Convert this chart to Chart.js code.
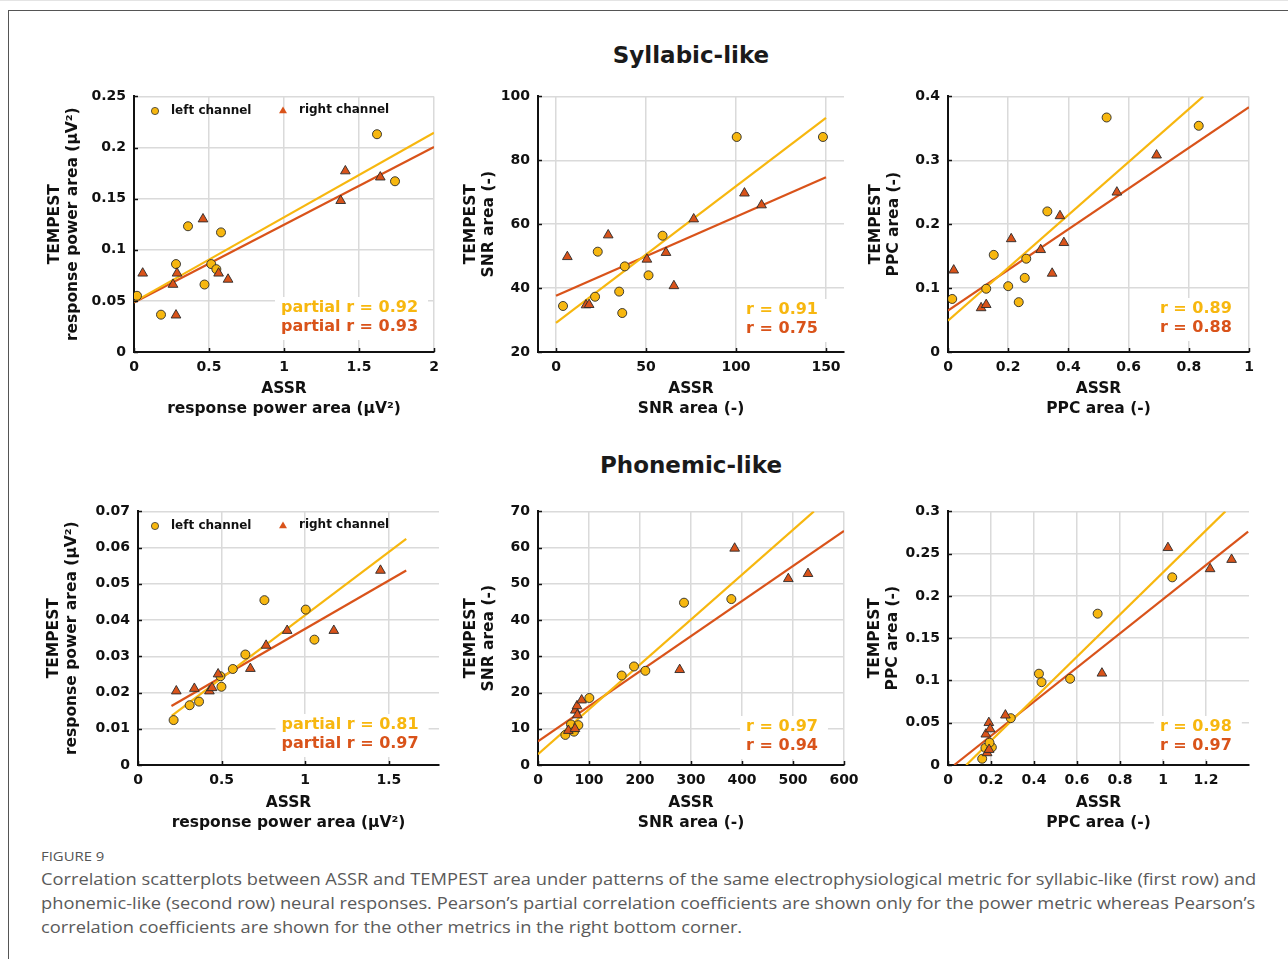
<!DOCTYPE html>
<html>
<head>
<meta charset="utf-8">
<script src="https://cdn.jsdelivr.net/npm/chart.js@4.4.1/dist/chart.umd.min.js"></script>
<style>
html, body { margin: 0; padding: 0; background: #fff; }
body { width: 1288px; height: 959px; position: relative; overflow: hidden; font-family: "DejaVu Sans", sans-serif; }
.topline { position: absolute; left: 0; top: 0; width: 100%; height: 1px; background: #e4e4e4; }
.frame { position: absolute; left: 8px; top: 10px; right: 0; bottom: 0; border-top: 1px solid #555; border-left: 1px solid #555; }
.rowtitle { position: absolute; font-weight: bold; font-size: 23px; line-height: 28px; color: #1a1a1a; white-space: nowrap; transform: translateX(-50%); }
canvas { position: absolute; }
.fig { position: absolute; left: 41px; top: 847px; font-family: "Open Sans", sans-serif; font-size: 13px; line-height: 18px; color: #555; white-space: nowrap; transform-origin: 0 50%; }
.cap { position: absolute; left: 41px; font-family: "Open Sans", sans-serif; font-size: 17px; line-height: 24px; color: #5a5a5a; white-space: nowrap; transform-origin: 0 50%; }
</style>
</head>
<body>
<div class="topline"></div>
<div class="frame"></div>
<div class="rowtitle" style="left:691px; top:41px;">Syllabic-like</div>
<div class="rowtitle" style="left:691px; top:451px;">Phonemic-like</div>
<div class="fig">FIGURE 9</div>
<div class="cap" style="top:867px;">Correlation scatterplots between ASSR and TEMPEST area under patterns of the same electrophysiological metric for syllabic-like (first row) and</div>
<div class="cap" style="top:891px;">phonemic-like (second row) neural responses. Pearson’s partial correlation coefficients are shown only for the power metric whereas Pearson’s</div>
<div class="cap" style="top:915px;">correlation coefficients are shown for the other metrics in the right bottom corner.</div>

<script>
// ---- data: [ASSR, TEMPEST] pairs ----

// syllabic-like, response power area
const sylPowLeft = [[0.02, 0.055], [0.18, 0.0365], [0.28, 0.086], [0.36, 0.123], [0.47, 0.066], [0.515, 0.086], [0.549, 0.081], [0.58, 0.117], [1.62, 0.213], [1.74, 0.167]];
const sylPowRight = [[0.058, 0.077], [0.26, 0.066], [0.287, 0.077], [0.28, 0.036], [0.46, 0.130], [0.564, 0.077], [0.627, 0.071], [1.378, 0.148], [1.409, 0.177], [1.642, 0.171]];
const sylPowLeftFit = [[0, 0.049], [2, 0.2144]];
const sylPowRightFit = [[0, 0.0485], [2, 0.2005]];
const sylPowStats = ['partial r = 0.92', 'partial r = 0.93'];
const sylPowXTicks = [0, 0.5, 1, 1.5, 2];
const sylPowYTicks = [0, 0.05, 0.1, 0.15, 0.2, 0.25];

// syllabic-like, SNR area
const sylSnrLeft = [[3.9, 34.4], [21.7, 37.3], [23.2, 51.4], [35.1, 38.9], [36.8, 32.2], [38.2, 46.8], [51.4, 44.0], [59.2, 56.4], [100.4, 87.3], [148.3, 87.3]];
const sylSnrRight = [[6.3, 49.8], [16.7, 34.7], [18.4, 34.8], [29.0, 56.6], [50.5, 49.0], [61.1, 51.1], [65.5, 40.7], [76.5, 61.6], [104.7, 69.7], [114.2, 66.0]];
const sylSnrLeftFit = [[0, 29.1], [150, 93.3]];
const sylSnrRightFit = [[0, 37.6], [150, 74.7]];
const sylSnrStats = ['r = 0.91', 'r = 0.75'];
const sylSnrXTicks = [0, 50, 100, 150];
const sylSnrYTicks = [20, 40, 60, 80, 100];

// syllabic-like, PPC area
const sylPpcLeft = [[0.014, 0.083], [0.127, 0.099], [0.152, 0.152], [0.200, 0.103], [0.235, 0.078], [0.255, 0.116], [0.260, 0.146], [0.330, 0.220], [0.527, 0.367], [0.833, 0.354]];
const sylPpcRight = [[0.019, 0.128], [0.110, 0.069], [0.127, 0.074], [0.210, 0.177], [0.308, 0.160], [0.346, 0.123], [0.372, 0.213], [0.385, 0.171], [0.561, 0.250], [0.693, 0.308]];
const sylPpcLeftFit = [[0, 0.049], [0.848, 0.4]];
const sylPpcRightFit = [[0, 0.065], [1, 0.383]];
const sylPpcStats = ['r = 0.89', 'r = 0.88'];
const sylPpcXTicks = [0, 0.2, 0.4, 0.6, 0.8, 1];
const sylPpcYTicks = [0, 0.1, 0.2, 0.3, 0.4];

// phonemic-like, response power area
const phoPowLeft = [[0.213, 0.0124], [0.309, 0.0165], [0.365, 0.0175], [0.493, 0.0245], [0.499, 0.0216], [0.567, 0.0265], [0.642, 0.0305], [0.756, 0.0455], [1.003, 0.0429], [1.055, 0.0346]];
const phoPowRight = [[0.229, 0.0204], [0.337, 0.0211], [0.427, 0.0204], [0.443, 0.0213], [0.479, 0.0251], [0.672, 0.0266], [0.766, 0.0330], [0.892, 0.0371], [1.171, 0.0371], [1.450, 0.0537]];
const phoPowLeftFit = [[0.203, 0.0136], [1.604, 0.0624]];
const phoPowRightFit = [[0.2, 0.0163], [1.604, 0.0537]];
const phoPowStats = ['partial r = 0.81', 'partial r = 0.97'];
const phoPowXTicks = [0, 0.5, 1, 1.5];
const phoPowYTicks = [0, 0.01, 0.02, 0.03, 0.04, 0.05, 0.06, 0.07];

// phonemic-like, SNR area
const phoSnrLeft = [[53.6, 8.3], [64.7, 11.2], [70.6, 9.2], [79.1, 11.0], [100.7, 18.5], [164.1, 24.7], [188.2, 27.2], [210.5, 26.0], [286.3, 44.8], [379.1, 45.8]];
const phoSnrRight = [[59.5, 9.5], [72.5, 10.0], [73.2, 15.1], [76.5, 16.3], [77.1, 13.8], [85.6, 17.9], [277.8, 26.3], [385.6, 59.8], [490.8, 51.4], [529.4, 52.8]];
const phoSnrLeftFit = [[0, 3.0], [541, 70]];
const phoSnrRightFit = [[0, 6.5], [600, 64.6]];
const phoSnrStats = ['r = 0.97', 'r = 0.94'];
const phoSnrXTicks = [0, 100, 200, 300, 400, 500, 600];
const phoSnrYTicks = [0, 10, 20, 30, 40, 50, 60, 70];

// phonemic-like, PPC area
const phoPpcLeft = [[0.159, 0.0074], [0.174, 0.0202], [0.204, 0.0209], [0.193, 0.0264], [0.292, 0.0554], [0.423, 0.108], [0.435, 0.098], [0.568, 0.102], [0.696, 0.179], [1.043, 0.222]];
const phoPpcRight = [[0.176, 0.0364], [0.190, 0.050], [0.196, 0.0426], [0.182, 0.0143], [0.191, 0.0182], [0.267, 0.0589], [0.716, 0.1085], [1.023, 0.257], [1.219, 0.232], [1.319, 0.243]];
const phoPpcLeftFit = [[0.085, 0], [1.29, 0.3]];
const phoPpcRightFit = [[0.029, 0], [1.396, 0.276]];
const phoPpcStats = ['r = 0.98', 'r = 0.97'];
const phoPpcXTicks = [0, 0.2, 0.4, 0.6, 0.8, 1, 1.2];
const phoPpcYTicks = [0, 0.05, 0.1, 0.15, 0.2, 0.25, 0.3];

const powTitle = 'response power area (μV²)';
const snrTitle = 'SNR area (-)';
const ppcTitle = 'PPC area (-)';

// ---- styling ----
const YEL = '#f7b70f';
const RED = '#d9531a';
const INK = '#111';
const GRID = '#dadada';
const FONT = '"DejaVu Sans", sans-serif';

Chart.defaults.font.family = FONT;

const toPts = arr => arr.map(([x, y]) => ({ x, y }));
const fmt = v => String(Math.round(v * 10000) / 10000);

function triPath(ctx, x, y, r) {
    ctx.beginPath();
    ctx.moveTo(x, y - r);
    ctx.lineTo(x + r * Math.sin(2 * Math.PI / 3), y + r * 0.5);
    ctx.lineTo(x - r * Math.sin(2 * Math.PI / 3), y + r * 0.5);
    ctx.closePath();
}

function buildPanel(p) {
    const [cx, cy, cw, ch] = p.box;
    const [al, at, ar, ab] = p.area;

    const cv = document.createElement('canvas');
    cv.width = cw;
    cv.height = ch;
    cv.style.left = cx + 'px';
    cv.style.top = cy + 'px';
    document.body.appendChild(cv);

    // white box + r values in the bottom right corner
    const statsPlugin = {
        id: 'statsBox',
        beforeDatasetsDraw(chart) {
            const { ctx, chartArea: a } = chart;
            ctx.save();
            ctx.font = 'bold 16px ' + FONT;
            const x = a.left + p.statFx * (a.right - a.left);
            const w = Math.max(...p.stats.map(t => ctx.measureText(t).width));
            const y1 = a.bottom - p.statDy[0];
            const y2 = a.bottom - p.statDy[1];
            ctx.fillStyle = '#fff';
            ctx.fillRect(x - 6, y1 - 11, w + 16, y2 - y1 + 24);
            ctx.restore();
        },
        afterDatasetsDraw(chart) {
            const { ctx, chartArea: a } = chart;
            ctx.save();
            ctx.font = 'bold 16px ' + FONT;
            ctx.textAlign = 'left';
            ctx.textBaseline = 'middle';
            const x = a.left + p.statFx * (a.right - a.left);
            ctx.fillStyle = YEL;
            ctx.fillText(p.stats[0], x, a.bottom - p.statDy[0]);
            ctx.fillStyle = RED;
            ctx.fillText(p.stats[1], x, a.bottom - p.statDy[1]);
            ctx.restore();
        }
    };

    // MATLAB-style inward tick marks
    const tickPlugin = {
        id: 'inTicks',
        afterDraw(chart) {
            const { ctx, chartArea: a, scales } = chart;
            ctx.save();
            ctx.strokeStyle = INK;
            ctx.lineWidth = 1.5;
            ctx.beginPath();
            scales.x.ticks.forEach(t => {
                const px = Math.round(scales.x.getPixelForValue(t.value)) + 0.5;
                ctx.moveTo(px, a.bottom);
                ctx.lineTo(px, a.bottom - 4);
            });
            scales.y.ticks.forEach(t => {
                const py = Math.round(scales.y.getPixelForValue(t.value)) + 0.5;
                ctx.moveTo(a.left, py);
                ctx.lineTo(a.left + 4, py);
            });
            ctx.stroke();
            ctx.restore();
        }
    };

    // legend sitting inside the top of the plot
    const legendPlugin = {
        id: 'innerLegend',
        afterDatasetsDraw(chart) {
            if (!p.legend) return;
            const { ctx, data } = chart;
            const ly = 31;
            ctx.save();
            ctx.lineWidth = 0.8;
            ctx.strokeStyle = '#333';
            ctx.fillStyle = YEL;
            ctx.beginPath();
            ctx.arc(135, ly, 3.6, 0, Math.PI * 2);
            ctx.fill();
            ctx.stroke();
            ctx.fillStyle = RED;
            triPath(ctx, 263, ly, 4.6);
            ctx.fill();
            ctx.font = 'bold 12px ' + FONT;
            ctx.fillStyle = INK;
            ctx.textAlign = 'left';
            ctx.textBaseline = 'middle';
            ctx.fillText(data.datasets[0].label, 151, ly);
            ctx.fillText(data.datasets[1].label, 279, ly - 1);
            ctx.restore();
        }
    };

    const tickFont = { family: FONT, size: 14, weight: 'bold' };
    const titleFont = { family: FONT, size: 15.5, weight: 'bold', lineHeight: '20px' };

    new Chart(cv, {
        type: 'scatter',
        data: {
            datasets: [
                {
                    label: 'left channel',
                    data: toPts(p.left),
                    pointStyle: 'circle',
                    pointRadius: 4.5,
                    backgroundColor: YEL,
                    borderColor: '#2a2a2a',
                    borderWidth: 0.9,
                    order: 1
                },
                {
                    label: 'right channel',
                    data: toPts(p.right),
                    pointStyle: 'triangle',
                    pointRadius: 5.6,
                    backgroundColor: RED,
                    borderColor: '#2a2a2a',
                    borderWidth: 0.9,
                    order: 0
                },
                {
                    label: 'left fit',
                    data: toPts(p.leftFit),
                    showLine: true,
                    pointRadius: 0,
                    borderColor: YEL,
                    borderWidth: 2.2,
                    order: 2
                },
                {
                    label: 'right fit',
                    data: toPts(p.rightFit),
                    showLine: true,
                    pointRadius: 0,
                    borderColor: RED,
                    borderWidth: 2.2,
                    order: 3
                }
            ]
        },
        options: {
            responsive: false,
            animation: false,
            devicePixelRatio: 1,
            layout: {
                padding: { left: 0, top: at - cy, right: cx + cw - ar, bottom: 0 }
            },
            scales: {
                x: {
                    type: 'linear',
                    min: p.xMin,
                    max: p.xMax,
                    afterBuildTicks: s => { s.ticks = p.xTicks.map(v => ({ value: v })); },
                    afterFit: s => { s.height = cy + ch - ab; },
                    grid: { color: GRID, lineWidth: 1.5, drawTicks: false },
                    border: { color: INK, width: 2 },
                    ticks: { color: INK, font: tickFont, padding: 7, maxRotation: 0, autoSkip: false, callback: v => fmt(v) },
                    title: { display: true, text: ['ASSR', p.xTitle], color: INK, font: titleFont, padding: { top: 0, bottom: p.xTitlePad } }
                },
                y: {
                    type: 'linear',
                    min: p.yMin,
                    max: p.yMax,
                    afterBuildTicks: s => { s.ticks = p.yTicks.map(v => ({ value: v })); },
                    afterFit: s => { s.width = al - cx; },
                    grid: { color: GRID, lineWidth: 1.5, drawTicks: false },
                    border: { color: INK, width: 2 },
                    ticks: { color: INK, font: tickFont, padding: 8, autoSkip: false, callback: v => fmt(v) },
                    title: {
                        display: true,
                        text: ['TEMPEST', p.yTitle],
                        color: INK,
                        font: { family: FONT, size: 15.5, weight: 'bold', lineHeight: '18px' },
                        padding: { top: p.yTitleX - cx - 9, bottom: 0 }
                    }
                }
            },
            plugins: {
                legend: { display: false },
                tooltip: { enabled: false }
            }
        },
        plugins: [statsPlugin, legendPlugin, tickPlugin]
    });
}

// top row
buildPanel({
    box: [20, 80, 440, 345], area: [134, 94, 434, 352], yTitleX: 55, xTitlePad: 6,
    xMin: 0, xMax: 2, yMin: 0, yMax: 0.25, xTicks: sylPowXTicks, yTicks: sylPowYTicks,
    left: sylPowLeft, right: sylPowRight, leftFit: sylPowLeftFit, rightFit: sylPowRightFit,
    stats: sylPowStats, statFx: 0.49, statDy: [44, 25], legend: true,
    xTitle: powTitle, yTitle: powTitle
});
buildPanel({
    box: [455, 80, 420, 345], area: [538, 94, 844, 352], yTitleX: 471, xTitlePad: 6,
    xMin: -10, xMax: 160, yMin: 20, yMax: 100, xTicks: sylSnrXTicks, yTicks: sylSnrYTicks,
    left: sylSnrLeft, right: sylSnrRight, leftFit: sylSnrLeftFit, rightFit: sylSnrRightFit,
    stats: sylSnrStats, statFx: 0.68, statDy: [42, 23], legend: false,
    xTitle: snrTitle, yTitle: snrTitle
});
buildPanel({
    box: [858, 80, 420, 345], area: [948, 94, 1249, 352], yTitleX: 876, xTitlePad: 6,
    xMin: 0, xMax: 1, yMin: 0, yMax: 0.4, xTicks: sylPpcXTicks, yTicks: sylPpcYTicks,
    left: sylPpcLeft, right: sylPpcRight, leftFit: sylPpcLeftFit, rightFit: sylPpcRightFit,
    stats: sylPpcStats, statFx: 0.704, statDy: [43, 24], legend: false,
    xTitle: ppcTitle, yTitle: ppcTitle
});

// bottom row
buildPanel({
    box: [20, 495, 440, 345], area: [138, 508, 439, 765], yTitleX: 53.5, xTitlePad: 7,
    xMin: 0, xMax: 1.8, yMin: 0, yMax: 0.07, xTicks: phoPowXTicks, yTicks: phoPowYTicks,
    left: phoPowLeft, right: phoPowRight, leftFit: phoPowLeftFit, rightFit: phoPowRightFit,
    stats: phoPowStats, statFx: 0.477, statDy: [40, 21], legend: true,
    xTitle: powTitle, yTitle: powTitle
});
buildPanel({
    box: [455, 495, 420, 345], area: [538, 508, 844, 765], yTitleX: 471, xTitlePad: 7,
    xMin: 0, xMax: 600, yMin: 0, yMax: 70, xTicks: phoSnrXTicks, yTicks: phoSnrYTicks,
    left: phoSnrLeft, right: phoSnrRight, leftFit: phoSnrLeftFit, rightFit: phoSnrRightFit,
    stats: phoSnrStats, statFx: 0.68, statDy: [38, 19], legend: false,
    xTitle: snrTitle, yTitle: snrTitle
});
buildPanel({
    box: [858, 495, 420, 345], area: [948, 508, 1249, 765], yTitleX: 875, xTitlePad: 7,
    xMin: 0, xMax: 1.4, yMin: 0, yMax: 0.3, xTicks: phoPpcXTicks, yTicks: phoPpcYTicks,
    left: phoPpcLeft, right: phoPpcRight, leftFit: phoPpcLeftFit, rightFit: phoPpcRightFit,
    stats: phoPpcStats, statFx: 0.704, statDy: [38, 19], legend: false,
    xTitle: ppcTitle, yTitle: ppcTitle
});

// squeeze the caption lines to the printed width
const capLines = document.querySelectorAll('.cap');
const k = 1215 / capLines[0].scrollWidth;
capLines.forEach(el => { el.style.transform = 'scaleX(' + k + ')'; });
const fig = document.querySelector('.fig');
fig.style.transform = 'scaleX(' + (63 / fig.scrollWidth) + ')';
</script>
</body>
</html>
